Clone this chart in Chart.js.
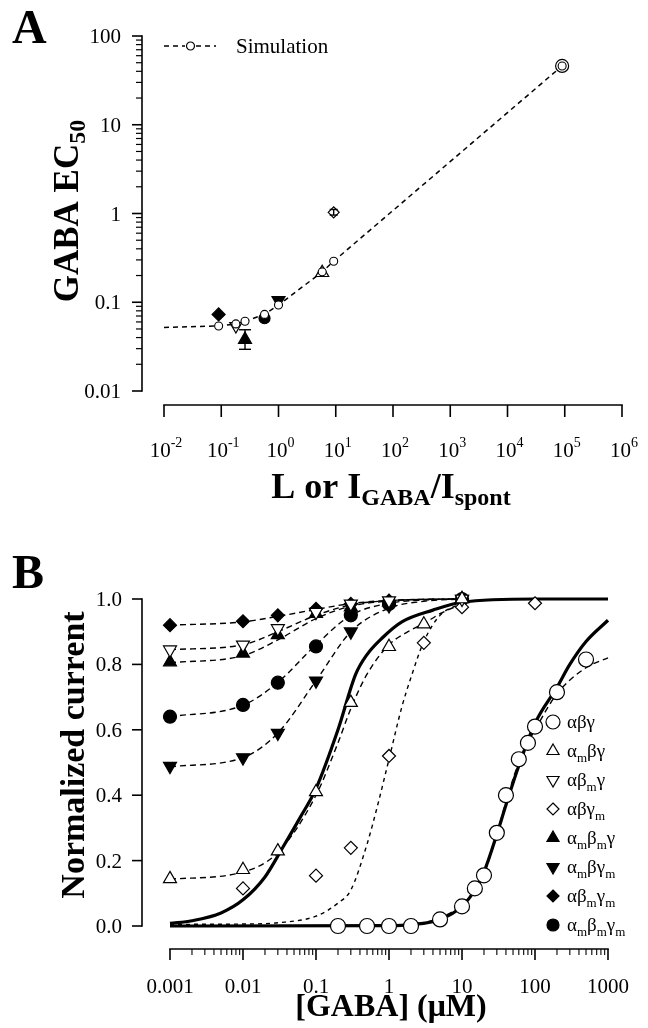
<!DOCTYPE html>
<html><head><meta charset="utf-8">
<script src="https://cdn.jsdelivr.net/npm/chart.js@4.4.1/dist/chart.umd.min.js"></script>
<style>
html,body{margin:0;padding:0;background:#fff;}
#wrap{position:relative;width:648px;height:1028px;overflow:hidden;background:#fff;}
canvas{position:absolute;left:0;top:0;}
</style></head><body>
<div id="wrap"><canvas id="cA" width="648" height="1028"></canvas><canvas id="cB" width="648" height="1028"></canvas></div>
<script>
// ---------------- DATA ----------------
const receptors = ['αβγ','α_mβγ','αβ_mγ','αβγ_m','α_mβ_mγ','α_mβγ_m','αβ_mγ_m','α_mβ_mγ_m'];

// Panel A: simulation curve
const simL     = [0.01, 0.09, 0.18, 0.26, 0.57, 1.0, 5.8, 9.2, 90000];
const simEC50  = [0.052, 0.054, 0.057, 0.061, 0.073, 0.093, 0.22, 0.29, 46];
// Panel A: experimental EC50 (same receptor order)
const expL     = [90000, 5.8, 0.18, 9.2, 0.26, 1.0, 0.09, 0.57];
const expEC50  = [46, 0.215, 0.054, 1.03, 0.038, 0.105, 0.073, 0.066];
const expErrLow  = [null, null, null, 0.96, 0.0295, null, null, null];
const expErrHigh = [null, null, null, 1.11, 0.049, null, null, null];
const aYTicks = [0.01, 0.1, 1, 10, 100];
const aYTickLabels = ['0.01', '0.1', '1', '10', '100'];
const aXTicks = [1e-2, 1e-1, 1e0, 1e1, 1e2, 1e3, 1e4, 1e5, 1e6];
const aXExps = ['-2', '-1', '0', '1', '2', '3', '4', '5', '6'];

// Panel B: concentration-response data
const conc_abg = [0.2, 0.5, 1, 2, 5, 10, 15, 20, 30, 40, 60, 80, 100, 200, 500];
const resp_abg = [0, 0, 0, 0, 0.02, 0.06, 0.115, 0.155, 0.285, 0.40, 0.51, 0.56, 0.61, 0.715, 0.815];
const conc_ambg = [0.001, 0.01, 0.03, 0.1, 0.3, 1, 3, 10, 100];
const resp_ambg = [0.144, 0.172, 0.229, 0.41, 0.683, 0.854, 0.923, 1.0, 1.036];
const conc_abmg = [0.001, 0.01, 0.03, 0.1, 0.3, 1, 10];
const resp_abmg = [0.845, 0.86, 0.91, 0.96, 0.985, 0.995, 1.0];
const conc_abgm = [0.01, 0.1, 0.3, 1, 3, 10, 100];
const resp_abgm = [0.115, 0.154, 0.239, 0.52, 0.866, 0.975, 0.987];
const conc_ambmg = [0.001, 0.01, 0.03, 0.1, 0.3, 1, 10];
const resp_ambmg = [0.807, 0.834, 0.89, 0.955, 0.975, 0.99, 1.0];
const conc_ambgm = [0.001, 0.01, 0.03, 0.1, 0.3, 1, 10];
const resp_ambgm = [0.489, 0.515, 0.59, 0.75, 0.9, 0.98, 1.0];
const conc_abmgm = [0.001, 0.01, 0.03, 0.1, 0.3, 1, 10];
const resp_abmgm = [0.92, 0.932, 0.95, 0.97, 0.985, 0.995, 1.0];
const conc_ambmgm = [0.001, 0.01, 0.03, 0.1, 0.3, 1, 10];
const resp_ambmgm = [0.64, 0.676, 0.744, 0.855, 0.95, 0.985, 1.0];

// Panel B: fitted curves (dashed)
const fitX_abg = [0.2, 0.5, 1, 2, 5, 10, 15, 20, 30, 40, 60, 80, 100, 200, 500, 1000];
const fitY_abg = [0, 0, 0.002, 0.005, 0.025, 0.065, 0.11, 0.16, 0.28, 0.38, 0.5, 0.56, 0.6, 0.71, 0.79, 0.82];
const fitX_ambg = [0.001, 0.01, 0.03, 0.1, 0.2, 0.3, 0.5, 1, 2, 3, 5, 10];
const fitY_ambg = [0.143, 0.165, 0.225, 0.4, 0.56, 0.665, 0.77, 0.86, 0.905, 0.925, 0.955, 0.985];
const fitX_abgm = [0.001, 0.01, 0.03, 0.1, 0.2, 0.3, 0.5, 0.7, 1, 1.5, 2, 3, 5, 10];
const fitY_abgm = [0.005, 0.006, 0.01, 0.03, 0.07, 0.11, 0.25, 0.37, 0.51, 0.67, 0.76, 0.87, 0.95, 0.987];
const fitX_low = [0.001, 0.01, 0.03, 0.1, 0.3, 1, 3, 10];
const fitY_abmg = [0.845, 0.86, 0.9, 0.95, 0.982, 0.995, 0.999, 1.0];
const fitY_ambmg = [0.805, 0.827, 0.875, 0.94, 0.978, 0.994, 0.999, 1.0];
const fitY_ambgm = [0.487, 0.515, 0.59, 0.75, 0.9, 0.972, 0.993, 1.0];
const fitY_abmgm = [0.92, 0.93, 0.947, 0.968, 0.986, 0.996, 0.999, 1.0];
const fitY_ambmgm = [0.64, 0.675, 0.745, 0.86, 0.95, 0.987, 0.997, 1.0];
// Panel B: solid model curves
const solidX_left = [0.001, 0.002, 0.005, 0.01, 0.02, 0.035, 0.06, 0.1, 0.2, 0.35, 0.5, 0.8, 1.5, 4, 10, 100, 1000];
const solidY_left = [0.008, 0.016, 0.04, 0.08, 0.15, 0.24, 0.33, 0.42, 0.6, 0.77, 0.83, 0.88, 0.93, 0.966, 0.99, 1.0, 1.0];
const solidX_right = [0.001, 1, 2, 5, 10, 15, 20, 30, 40, 60, 100, 200, 300, 500, 1000];
const solidY_right = [0, 0.001, 0.004, 0.02, 0.06, 0.11, 0.165, 0.28, 0.37, 0.49, 0.62, 0.73, 0.8, 0.87, 0.935];

const bXTicks = [0.001, 0.01, 0.1, 1, 10, 100, 1000];
const bXTickLabels = ['0.001', '0.01', '0.1', '1', '10', '100', '1000'];
const bYTicks = [0, 0.2, 0.4, 0.6, 0.8, 1.0];
const bYTickLabels = ['0.0', '0.2', '0.4', '0.6', '0.8', '1.0'];

// ---------------- STYLES ----------------
const shapes = ['circle', 'triangle', 'triangle', 'rectRot', 'triangle', 'triangle', 'rectRot', 'circle'];
const rotations = [0, 0, 180, 0, 0, 180, 0, 0];
const filled = [false, false, false, false, true, true, true, true];
const radiusA = [6.5, 7.5, 7, 5.5, 7.5, 7.5, 6.5, 5.5];
const radiusB = [7.5, 7.5, 7.5, 6.5, 7.5, 7.5, 6.5, 6.5];
const FONT = '"Liberation Serif", "Times New Roman", serif';

const pts = (xs, ys) => xs.map((x, i) => ({x: x, y: ys[i]}));

function setFont(ctx, p) { ctx.font = (p.b ? 'bold ' : '') + p.s + 'px ' + FONT; }
function richWidth(ctx, parts) { let w = 0; for (const p of parts) { setFont(ctx, p); w += ctx.measureText(p.t).width; } return w; }
function drawRich(ctx, parts, x, y, align) {
  const w = richWidth(ctx, parts);
  let cx = align === 'center' ? x - w / 2 : (align === 'right' ? x - w : x);
  ctx.textAlign = 'left'; ctx.textBaseline = 'alphabetic';
  for (const p of parts) { setFont(ctx, p); ctx.fillText(p.t, cx, y + (p.dy || 0)); cx += ctx.measureText(p.t).width; }
}
function seg(ctx, x1, y1, x2, y2) { ctx.beginPath(); ctx.moveTo(x1, y1); ctx.lineTo(x2, y2); ctx.stroke(); }
function labelParts(str, size, sub) {
  const parts = []; let i = 0;
  while (i < str.length) {
    if (str[i] === '_') { parts.push({t: str[i + 1], s: sub, dy: 5}); i += 2; }
    else { parts.push({t: str[i], s: size}); i++; }
  }
  return parts;
}
function marker(ctx, shape, rot, fill, x, y, r) {
  ctx.save(); ctx.translate(x, y); ctx.rotate(rot * Math.PI / 180);
  ctx.beginPath();
  if (shape === 'circle') ctx.arc(0, 0, r, 0, Math.PI * 2);
  else if (shape === 'triangle') { for (let k = 0; k < 3; k++) { const a = k * 2 * Math.PI / 3; const px = Math.sin(a) * r, py = -Math.cos(a) * r; k ? ctx.lineTo(px, py) : ctx.moveTo(px, py); } ctx.closePath(); }
  else if (shape === 'rectRot') { ctx.moveTo(0, -r); ctx.lineTo(r, 0); ctx.lineTo(0, r); ctx.lineTo(-r, 0); ctx.closePath(); }
  ctx.fillStyle = fill ? '#000' : '#fff'; ctx.fill();
  ctx.lineWidth = 1.2; ctx.strokeStyle = '#000'; ctx.stroke();
  ctx.restore();
}

// ---------------- PANEL A ----------------
const axesA = {
  id: 'axesA',
  afterDraw(chart) {
    const ctx = chart.ctx, xs = chart.scales.x, ys = chart.scales.y;
    ctx.save(); ctx.strokeStyle = '#000'; ctx.fillStyle = '#000'; ctx.lineWidth = 1.6;
    const ax = 142;
    seg(ctx, ax, ys.getPixelForValue(aYTicks[aYTicks.length - 1]) - 0.8, ax, ys.getPixelForValue(aYTicks[0]) + 0.8);
    aYTicks.forEach((v, i) => {
      const p = ys.getPixelForValue(v);
      seg(ctx, ax - 10, p, ax, p);
      drawRich(ctx, [{t: aYTickLabels[i], s: 21}], 121, p + 7, 'right');
      if (i < aYTicks.length - 1) for (let m = 2; m <= 9; m++) { const pm = ys.getPixelForValue(v * m); ctx.lineWidth = 1.2; seg(ctx, ax - 6, pm, ax, pm); ctx.lineWidth = 1.6; }
    });
    const ay = 405;
    seg(ctx, xs.getPixelForValue(aXTicks[0]) - 0.8, ay, xs.getPixelForValue(aXTicks[aXTicks.length - 1]) + 0.8, ay);
    aXTicks.forEach((v, i) => {
      const p = xs.getPixelForValue(v);
      seg(ctx, p, ay, p, ay + 12);
      drawRich(ctx, [{t: '10', s: 21}, {t: aXExps[i], s: 14, dy: -10}], p + 2, 457, 'center');
    });
    // error bars
    expErrLow.forEach((lo, i) => {
      if (lo == null) return;
      const x = xs.getPixelForValue(expL[i]), y1 = ys.getPixelForValue(lo), y2 = ys.getPixelForValue(expErrHigh[i]);
      const cap = i === 3 ? 4 : 6;
      ctx.lineWidth = 1.4; seg(ctx, x, y1, x, y2); seg(ctx, x - cap, y1, x + cap, y1); seg(ctx, x - cap, y2, x + cap, y2);
    });
    // titles
    drawRich(ctx, [{t: 'L or I', s: 36, b: 1}, {t: 'GABA', s: 24, b: 1, dy: 7}, {t: '/I', s: 36, b: 1}, {t: 'spont', s: 24, b: 1, dy: 7}], 391, 498, 'center');
    ctx.save(); ctx.translate(78, 211); ctx.rotate(-Math.PI / 2);
    drawRich(ctx, [{t: 'GABA EC', s: 35, b: 1}, {t: '50', s: 24, b: 1, dy: 7}], 0, 0, 'center');
    ctx.restore();
    drawRich(ctx, [{t: 'A', s: 48, b: 1}], 12, 43, 'left');
    // legend
    ctx.lineWidth = 1.5; ctx.setLineDash([5, 4]);
    seg(ctx, 164, 46, 185, 46); seg(ctx, 196, 46, 216, 46); ctx.setLineDash([]);
    marker(ctx, 'circle', 0, false, 190.5, 46, 4);
    drawRich(ctx, [{t: 'Simulation', s: 21}], 236, 53, 'left');
    ctx.restore();
  }
};

new Chart(document.getElementById('cA'), {
  type: 'scatter',
  data: {
    datasets: [
      {
        label: 'Simulation', data: pts(simL, simEC50), showLine: true,
        borderColor: '#000', borderWidth: 1.5, borderDash: [5, 4],
        pointStyle: 'circle', pointRadius: simL.map((v, i) => i === 0 ? 0 : 4),
        pointBackgroundColor: '#fff', pointBorderColor: '#000', pointBorderWidth: 1.1,
        order: 0, clip: false
      },
      {
        label: 'Experiment', data: pts(expL, expEC50), showLine: false,
        pointStyle: shapes, pointRotation: rotations, pointRadius: radiusA,
        pointBackgroundColor: filled.map(f => f ? '#000' : '#fff'), pointBorderColor: '#000', pointBorderWidth: 1.2,
        order: 1, clip: false
      }
    ]
  },
  options: {
    responsive: false, animation: false, events: [],
    layout: {padding: {left: 164, right: 26, top: 36, bottom: 1028 - 391}},
    plugins: {legend: {display: false}, tooltip: {enabled: false}},
    scales: {
      x: {type: 'logarithmic', min: 0.01, max: 1e6, display: false},
      y: {type: 'logarithmic', min: 0.01, max: 100, display: false}
    }
  },
  plugins: [axesA]
});

// ---------------- PANEL B ----------------
const axesB = {
  id: 'axesB',
  afterDraw(chart) {
    const ctx = chart.ctx, xs = chart.scales.x, ys = chart.scales.y;
    ctx.save(); ctx.strokeStyle = '#000'; ctx.fillStyle = '#000'; ctx.lineWidth = 1.6;
    const ax = 142;
    seg(ctx, ax, ys.getPixelForValue(1) - 0.8, ax, ys.getPixelForValue(0) + 0.8);
    bYTicks.forEach((v, i) => {
      const p = ys.getPixelForValue(v);
      seg(ctx, ax - 10, p, ax, p);
      drawRich(ctx, [{t: bYTickLabels[i], s: 21}], 122, p + 7, 'right');
    });
    const ay = 949;
    seg(ctx, xs.getPixelForValue(bXTicks[0]) - 0.8, ay, xs.getPixelForValue(bXTicks[bXTicks.length - 1]) + 0.8, ay);
    bXTicks.forEach((v, i) => {
      const p = xs.getPixelForValue(v);
      ctx.lineWidth = 1.6; seg(ctx, p, ay, p, ay + 11);
      drawRich(ctx, [{t: bXTickLabels[i], s: 21}], p, 993, 'center');
      if (i < bXTicks.length - 1) for (let m = 2; m <= 9; m++) { const pm = xs.getPixelForValue(v * m); ctx.lineWidth = 1.1; seg(ctx, pm, ay, pm, ay + 6); }
    });
    ctx.lineWidth = 1.6;
    drawRich(ctx, [{t: '[GABA] (μM)', s: 32, b: 1}], 391, 1016, 'center');
    ctx.save(); ctx.translate(84, 755); ctx.rotate(-Math.PI / 2);
    drawRich(ctx, [{t: 'Normalized current', s: 34, b: 1}], 0, 0, 'center');
    ctx.restore();
    drawRich(ctx, [{t: 'B', s: 48, b: 1}], 12, 588, 'left');
    // legend
    receptors.forEach((r, i) => {
      const y = 722 + i * 29;
      marker(ctx, shapes[i], rotations[i], filled[i], 553, y, radiusB[i] - 0.5);
      drawRich(ctx, labelParts(r, 19, 13), 567, y + 6, 'left');
    });
    ctx.restore();
  }
};

const markerSets = [
  [conc_abg, resp_abg], [conc_ambg, resp_ambg], [conc_abmg, resp_abmg], [conc_abgm, resp_abgm],
  [conc_ambmg, resp_ambmg], [conc_ambgm, resp_ambgm], [conc_abmgm, resp_abmgm], [conc_ambmgm, resp_ambmgm]
];
const fitSets = [
  [fitX_abg, fitY_abg], [fitX_ambg, fitY_ambg], [fitX_low, fitY_abmg], [fitX_abgm, fitY_abgm],
  [fitX_low, fitY_ambmg], [fitX_low, fitY_ambgm], [fitX_low, fitY_abmgm], [fitX_low, fitY_ambmgm]
];
const bDatasets = [];
markerSets.forEach((s, i) => bDatasets.push({
  label: receptors[i], data: pts(s[0], s[1]), showLine: false,
  pointStyle: shapes[i], pointRotation: rotations[i], pointRadius: radiusB[i],
  pointBackgroundColor: filled[i] ? '#000' : '#fff', pointBorderColor: '#000', pointBorderWidth: 1.2,
  order: 0, clip: false
}));
fitSets.forEach((s, i) => bDatasets.push({
  label: 'fit ' + receptors[i], data: pts(s[0], s[1]), showLine: true,
  borderColor: '#000', borderWidth: 1.4, borderDash: i === 3 ? [4, 4] : [6, 4],
  cubicInterpolationMode: 'monotone', pointRadius: 0, order: 1, clip: false
}));
[[solidX_left, solidY_left], [solidX_right, solidY_right]].forEach((s, i) => bDatasets.push({
  label: 'model ' + (i + 1), data: pts(s[0], s[1]), showLine: true,
  borderColor: '#000', borderWidth: 3.2, cubicInterpolationMode: 'monotone', pointRadius: 0, order: 2, clip: false
}));

new Chart(document.getElementById('cB'), {
  type: 'scatter',
  data: {datasets: bDatasets},
  options: {
    responsive: false, animation: false, events: [],
    layout: {padding: {left: 170, right: 648 - 608, top: 599, bottom: 1028 - 926}},
    plugins: {legend: {display: false}, tooltip: {enabled: false}},
    scales: {
      x: {type: 'logarithmic', min: 0.001, max: 1000, display: false},
      y: {type: 'linear', min: 0, max: 1, display: false}
    }
  },
  plugins: [axesB]
});
</script>
</body></html>
